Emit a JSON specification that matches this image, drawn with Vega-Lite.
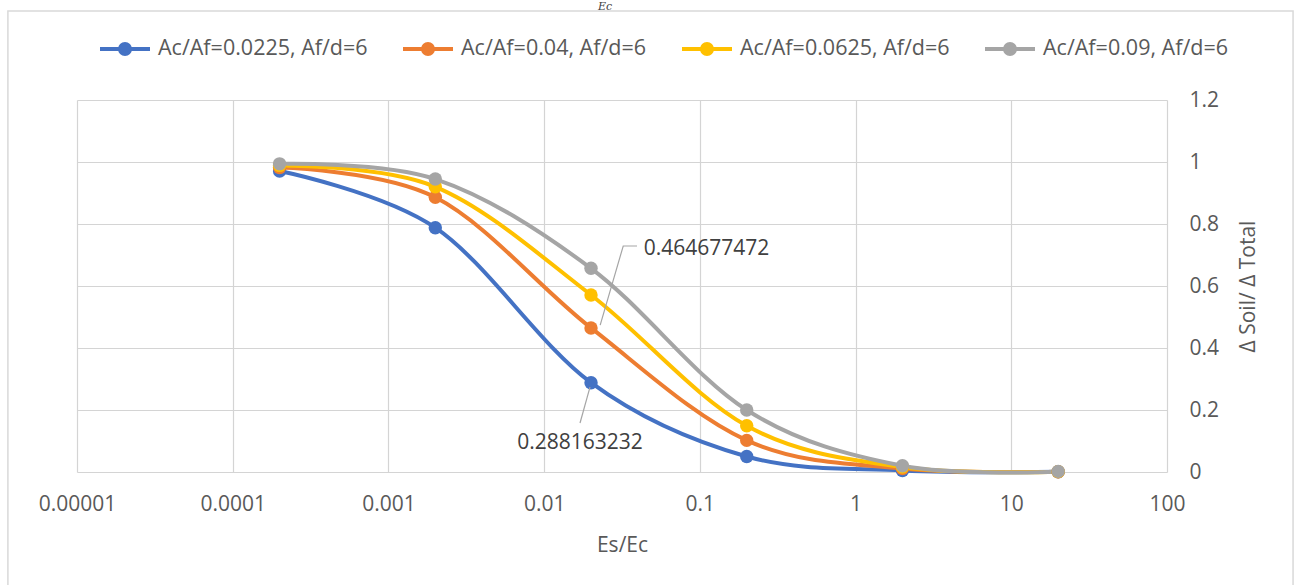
{
  "$schema": "https://vega.github.io/schema/vega-lite/v6.json",
  "width": 1090,
  "height": 372,
  "autosize": {"type": "none"},
  "padding": {"left": 77, "top": 100, "right": 128, "bottom": 113},
  "background": "white",
  "config": {"view": {"stroke": null}, "font": "Open Sans"},
  "datasets": {
    "series": [
      {"series": "Ac/Af=0.0225, Af/d=6", "es_ec": 0.0002, "ratio": 0.971},
      {"series": "Ac/Af=0.0225, Af/d=6", "es_ec": 0.002, "ratio": 0.788},
      {"series": "Ac/Af=0.0225, Af/d=6", "es_ec": 0.02, "ratio": 0.288163232},
      {"series": "Ac/Af=0.0225, Af/d=6", "es_ec": 0.2, "ratio": 0.05},
      {"series": "Ac/Af=0.0225, Af/d=6", "es_ec": 2, "ratio": 0.005},
      {"series": "Ac/Af=0.0225, Af/d=6", "es_ec": 20, "ratio": 0.0005},
      {"series": "Ac/Af=0.04, Af/d=6", "es_ec": 0.0002, "ratio": 0.982},
      {"series": "Ac/Af=0.04, Af/d=6", "es_ec": 0.002, "ratio": 0.886},
      {"series": "Ac/Af=0.04, Af/d=6", "es_ec": 0.02, "ratio": 0.464677472},
      {"series": "Ac/Af=0.04, Af/d=6", "es_ec": 0.2, "ratio": 0.102},
      {"series": "Ac/Af=0.04, Af/d=6", "es_ec": 2, "ratio": 0.011},
      {"series": "Ac/Af=0.04, Af/d=6", "es_ec": 20, "ratio": 0.001},
      {"series": "Ac/Af=0.0625, Af/d=6", "es_ec": 0.0002, "ratio": 0.989},
      {"series": "Ac/Af=0.0625, Af/d=6", "es_ec": 0.002, "ratio": 0.92},
      {"series": "Ac/Af=0.0625, Af/d=6", "es_ec": 0.02, "ratio": 0.571},
      {"series": "Ac/Af=0.0625, Af/d=6", "es_ec": 0.2, "ratio": 0.149},
      {"series": "Ac/Af=0.0625, Af/d=6", "es_ec": 2, "ratio": 0.016},
      {"series": "Ac/Af=0.0625, Af/d=6", "es_ec": 20, "ratio": 0.0012},
      {"series": "Ac/Af=0.09, Af/d=6", "es_ec": 0.0002, "ratio": 0.994},
      {"series": "Ac/Af=0.09, Af/d=6", "es_ec": 0.002, "ratio": 0.945},
      {"series": "Ac/Af=0.09, Af/d=6", "es_ec": 0.02, "ratio": 0.657},
      {"series": "Ac/Af=0.09, Af/d=6", "es_ec": 0.2, "ratio": 0.2},
      {"series": "Ac/Af=0.09, Af/d=6", "es_ec": 2, "ratio": 0.02},
      {"series": "Ac/Af=0.09, Af/d=6", "es_ec": 20, "ratio": 0.002}
    ],
    "leaders": [
      {"id": "a", "k": 1, "es_ec": 0.0395, "ratio": 0.729},
      {"id": "a", "k": 2, "es_ec": 0.0322, "ratio": 0.729},
      {"id": "a", "k": 3, "es_ec": 0.0229, "ratio": 0.474},
      {"id": "b", "k": 1, "es_ec": 0.0197, "ratio": 0.274},
      {"id": "b", "k": 2, "es_ec": 0.017, "ratio": 0.158}
    ],
    "labels": [
      {"label": "0.464677472", "es_ec": 0.1104, "ratio": 0.719},
      {"label": "0.288163232", "es_ec": 0.017, "ratio": 0.0935}
    ],
    "frame": [{"name": "chart area"}],
    "heading": [{"text": "Ec"}]
  },
  "layer": [
    {
      "data": {"name": "frame"},
      "mark": {"type": "rect", "fill": "transparent", "stroke": "#d9d9d9", "strokeWidth": 1.5, "clip": false},
      "encoding": {
        "x": {"datum": 0.0000036, "type": "quantitative", "scale": {"type": "log", "domain": [0.00001, 100]}},
        "x2": {"datum": 645},
        "y": {"datum": 1.487, "type": "quantitative", "scale": {"domain": [0, 1.2]}},
        "y2": {"datum": -0.45}
      }
    },
    {
      "data": {"name": "heading"},
      "mark": {"type": "text", "font": "DejaVu Serif", "fontStyle": "italic", "fontSize": 11, "color": "#404040", "align": "center", "baseline": "alphabetic", "clip": false},
      "encoding": {
        "x": {"datum": 0.0246, "type": "quantitative", "scale": {"type": "log", "domain": [0.00001, 100]}},
        "y": {"datum": 1.49, "type": "quantitative", "scale": {"domain": [0, 1.2]}},
        "text": {"field": "text"}
      }
    },
    {
      "data": {"name": "series"},
      "mark": {"type": "line", "interpolate": "cardinal", "strokeWidth": 4, "clip": false},
      "encoding": {
        "x": {"field": "es_ec", "type": "quantitative", "scale": {"type": "log", "domain": [0.00001, 100]},
          "axis": {"title": "Es/Ec", "values": [0.00001, 0.0001, 0.001, 0.01, 0.1, 1, 10, 100], "format": "~f", "grid": true, "gridColor": "#d4d4d4", "gridWidth": 1.2, "domain": false, "ticks": false, "tickSize": 0, "labelPadding": 21, "labelFontSize": 21, "labelColor": "#595959", "labelFont": "Open Sans", "titleFont": "Open Sans", "titleFontSize": 21, "titleFontWeight": "normal", "titleColor": "#595959", "titlePadding": 20, "labelFlush": false}},
        "y": {"field": "ratio", "type": "quantitative", "scale": {"domain": [0, 1.2]},
          "axis": {"orient": "right", "title": "Δ Soil/ Δ Total", "titleAngle": 270, "values": [0, 0.2, 0.4, 0.6, 0.8, 1, 1.2], "format": "~g", "grid": true, "gridColor": "#d4d4d4", "gridWidth": 1.2, "domain": false, "ticks": false, "tickSize": 0, "labelPadding": 22, "labelFontSize": 21, "labelColor": "#595959", "labelFont": "Open Sans", "titleFont": "Open Sans", "titleFontSize": 21, "titleFontWeight": "normal", "titleColor": "#595959", "titlePadding": 40}},
        "color": {"field": "series", "type": "nominal",
          "scale": {"domain": ["Ac/Af=0.0225, Af/d=6", "Ac/Af=0.04, Af/d=6", "Ac/Af=0.0625, Af/d=6", "Ac/Af=0.09, Af/d=6"], "range": ["#4472C4", "#ED7D31", "#FFC000", "#A5A5A5"]},
          "legend": {"orient": "none", "legendX": 21, "legendY": -78, "direction": "horizontal", "title": null,
            "symbolType": "M-1,0H1M0.2,0A0.2,0.2,0,1,1,-0.2,0A0.2,0.2,0,1,1,0.2,0Z", "symbolSize": 2500, "symbolStrokeWidth": 4,
            "labelFontSize": 21.5, "labelFont": "Open Sans", "labelColor": "#595959", "labelOffset": 6, "columnPadding": 27, "labelLimit": 0,
            "encode": {"symbols": {"update": {"fill": {"scale": "color", "field": "value"}, "stroke": {"scale": "color", "field": "value"}, "strokeWidth": {"value": 4}, "opacity": {"value": 1}}}}}},
        "order": {"field": "es_ec", "type": "quantitative"}
      }
    },
    {
      "data": {"name": "series"},
      "mark": {"type": "point", "filled": true, "size": 180, "opacity": 1, "clip": false},
      "encoding": {
        "x": {"field": "es_ec", "type": "quantitative", "scale": {"type": "log", "domain": [0.00001, 100]}},
        "y": {"field": "ratio", "type": "quantitative", "scale": {"domain": [0, 1.2]}},
        "color": {"field": "series", "type": "nominal"}
      }
    },
    {
      "data": {"name": "leaders"},
      "mark": {"type": "line", "stroke": "#a5a5a5", "strokeWidth": 1.2},
      "encoding": {
        "x": {"field": "es_ec", "type": "quantitative", "scale": {"type": "log", "domain": [0.00001, 100]}},
        "y": {"field": "ratio", "type": "quantitative", "scale": {"domain": [0, 1.2]}},
        "detail": {"field": "id"},
        "order": {"field": "k", "type": "quantitative"}
      }
    },
    {
      "data": {"name": "labels"},
      "mark": {"type": "text", "fontSize": 21, "font": "Open Sans", "color": "#404040", "align": "center", "baseline": "middle"},
      "encoding": {
        "x": {"field": "es_ec", "type": "quantitative", "scale": {"type": "log", "domain": [0.00001, 100]}},
        "y": {"field": "ratio", "type": "quantitative", "scale": {"domain": [0, 1.2]}},
        "text": {"field": "label"}
      }
    }
  ]
}
